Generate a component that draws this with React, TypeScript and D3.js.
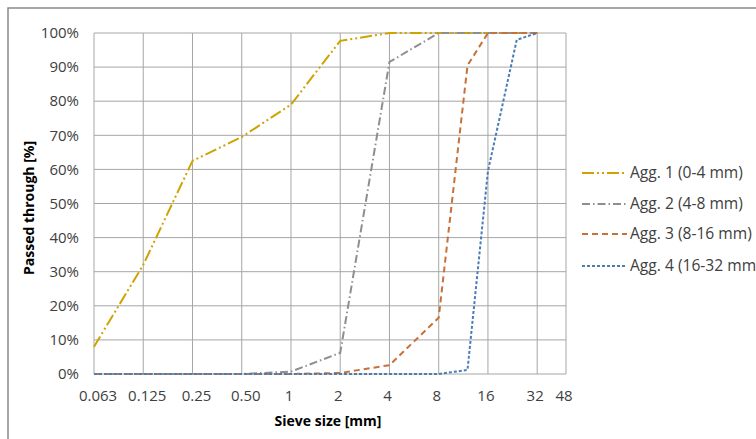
import React from "react";
import * as d3 from "d3";

// sieve sizes in mm (x) and passing percentages per aggregate
const sieves = [0.0625, 0.125, 0.25, 0.5, 1, 2, 4, 8, 12, 16, 24, 32];
const tickValues = [0.0625, 0.125, 0.25, 0.5, 1, 2, 4, 8, 16, 32, 48];
const tickLabels = ["0.063", "0.125", "0.25", "0.50", "1", "2", "4", "8", "16", "32", "48"];
const yTicks = [0, 10, 20, 30, 40, 50, 60, 70, 80, 90, 100];

const agg1 = [8, 32, 62.5, 69.5, 79, 97.7, 100, 100, 100, 100, 100, 100];
const agg2 = [0, 0, 0, 0, 0.7, 6.2, 91.5, 100, 100, 100, 100, 100];
const agg3 = [0, 0, 0, 0, 0, 0.3, 2.6, 16.5, 90.5, 100, 100, 100];
const agg4 = [0, 0, 0, 0, 0, 0, 0, 0, 1.2, 59.5, 98, 100];

const seriesNames = ["Agg. 1 (0-4 mm)", "Agg. 2 (4-8 mm)", "Agg. 3 (8-16 mm)", "Agg. 4 (16-32 mm)"];
const seriesColors = ["#CFA300", "#8E8E8E", "#C8703A", "#4A7DB5"];
const seriesDash = ["12,3,2,3,2,3", "8,3,1.5,3", "6,4", "3,2"];

export default function App() {
  const margin = { left: 94, top: 33, right: 566, bottom: 374 };
  const x = d3.scaleLog().base(2).domain([0.0625, 48]).range([margin.left, margin.right]);
  const y = d3.scaleLinear().domain([0, 100]).range([margin.bottom, margin.top]);

  const line = d3
    .line<number>()
    .x((_, i) => x(sieves[i]))
    .y((d) => y(d));

  const all = [agg1, agg2, agg3, agg4];
  const font = "'Open Sans', sans-serif";

  return (
    <svg
      width={756}
      height={439}
      style={{ position: "absolute", left: 0, top: 0, background: "#fff" }}
      fontFamily={font}
    >
      <rect x={8} y={8} width={800} height={500} fill="#fff" stroke="#8a8a8a" strokeWidth={1.5} />

      {/* gridlines */}
      {yTicks.map((t) => (
        <line key={"gy" + t} x1={margin.left} x2={margin.right} y1={y(t)} y2={y(t)} stroke="#a6a6a6" strokeWidth={1} />
      ))}
      {tickValues.map((t) => (
        <line key={"gx" + t} x1={x(t)} x2={x(t)} y1={margin.top} y2={margin.bottom} stroke="#a6a6a6" strokeWidth={1} />
      ))}

      {/* y labels */}
      {yTicks.map((t) => (
        <text key={"ly" + t} x={79} y={y(t)} dy="0.35em" textAnchor="end" fontSize={15} fill="#404040">
          {t + "%"}
        </text>
      ))}
      {/* x labels */}
      {tickValues.map((t, i) => (
        <text key={"lx" + t} x={x(t) + (i < 4 ? 4 : -2)} y={401} textAnchor="middle" fontSize={15} fill="#404040">
          {tickLabels[i]}
        </text>
      ))}

      {/* series */}
      {all.map((s, i) => (
        <path
          key={"s" + i}
          d={line(s) || ""}
          fill="none"
          stroke={seriesColors[i]}
          strokeWidth={2}
          strokeDasharray={seriesDash[i]}
        />
      ))}

      {/* axis titles */}
      <text x={328} y={426} textAnchor="middle" fontSize={14} fontWeight="bold" fill="#000">
        Sieve size [mm]
      </text>
      <text
        transform={`translate(34,208) rotate(-90)`}
        textAnchor="middle"
        fontSize={14}
        fontWeight="bold"
        fill="#000"
      >
        Passed through [%]
      </text>

      {/* legend */}
      {seriesNames.map((n, i) => {
        const ly = [173, 204, 234, 266][i];
        return (
          <g key={"lg" + i}>
            <line x1={582} x2={627} y1={ly} y2={ly} stroke={seriesColors[i]} strokeWidth={2} strokeDasharray={seriesDash[i]} />
            <text x={630} y={ly} dy="0.35em" fontSize={15.6} fill="#404040">
              {n}
            </text>
          </g>
        );
      })}
    </svg>
  );
}
